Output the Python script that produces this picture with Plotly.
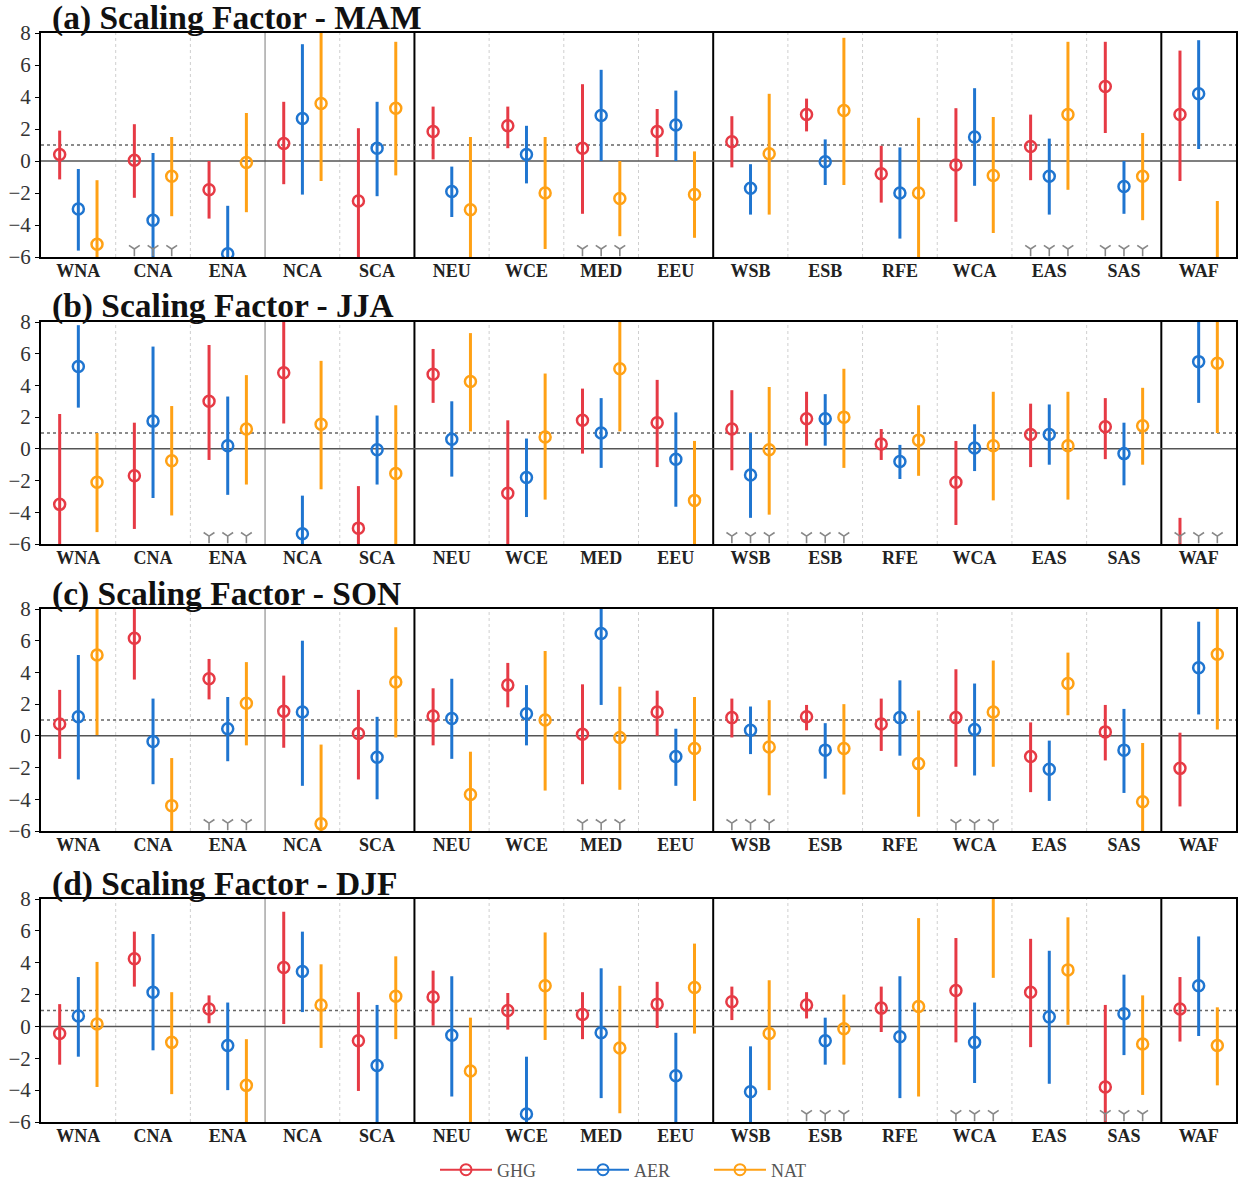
import plotly.graph_objects as go

REGIONS = ["WNA", "CNA", "ENA", "NCA", "SCA", "NEU", "WCE", "MED", "EEU",
           "WSB", "ESB", "RFE", "WCA", "EAS", "SAS", "WAF"]
SEASONS = ["MAM", "JJA", "SON", "DJF"]
PANEL_LETTERS = ["(a)", "(b)", "(c)", "(d)"]
SERIES = ["GHG", "AER", "NAT"]

# ---- (a) MAM ----
MAM_GHG    = [0.4, 0.05, -1.8, 1.1, -2.5, 1.85, 2.2, 0.8, 1.85, 1.2, 2.9, -0.8, -0.25, 0.9, 4.65, 2.9]
MAM_GHG_LO = [-1.15, -2.3, -3.6, -1.45, -8, 0.1, 0.8, -3.3, 0.25, -0.4, 1.85, -2.6, -3.8, -1.2, 1.75, -1.25]
MAM_GHG_HI = [1.9, 2.3, 0.0, 3.7, 2.05, 3.4, 3.4, 4.8, 3.25, 2.8, 3.9, 0.95, 3.3, 2.9, 7.45, 6.9]
MAM_AER    = [-3.0, -3.7, -5.8, 2.65, 0.8, -1.9, 0.4, 2.85, 2.25, -1.7, -0.05, -2.0, 1.5, -0.95, -1.6, 4.2]
MAM_AER_LO = [-5.6, -8, -9, -2.1, -2.2, -3.5, -1.4, 0.0, 0.0, -3.35, -1.5, -4.85, -1.55, -3.35, -3.3, 0.75]
MAM_AER_HI = [-0.5, 0.5, -2.8, 7.3, 3.7, -0.35, 2.2, 5.7, 4.4, -0.2, 1.35, 0.85, 4.55, 1.4, 0.0, 7.55]
MAM_NAT    = [-5.2, -0.95, -0.1, 3.6, 3.3, -3.05, -2.0, -2.35, -2.1, 0.45, 3.15, -2.0, -0.9, 2.9, -0.95, -8.5]
MAM_NAT_LO = [-8, -3.45, -3.2, -1.25, -0.9, -8, -5.5, -4.7, -4.8, -3.35, -1.5, -8, -4.5, -1.8, -3.7, -14]
MAM_NAT_HI = [-1.2, 1.5, 3.0, 8.5, 7.45, 1.5, 1.5, 0.0, 0.6, 4.2, 7.7, 2.7, 2.75, 7.45, 1.75, -2.5]

# ---- (b) JJA ----
JJA_GHG    = [-3.5, -1.7, 3.0, 4.8, -5.0, 4.7, -2.8, 1.8, 1.65, 1.25, 1.9, 0.3, -2.1, 0.9, 1.4, -7.5]
JJA_GHG_LO = [-9, -5.05, -0.7, 1.6, -8, 2.9, -8, -0.3, -1.15, -1.35, 0.2, -0.7, -4.8, -1.15, -0.65, -11]
JJA_GHG_HI = [2.2, 1.65, 6.55, 8.5, -2.35, 6.3, 1.8, 3.8, 4.35, 3.7, 3.6, 1.25, 0.5, 2.85, 3.2, -4.35]
JJA_AER    = [5.2, 1.75, 0.2, -5.35, -0.05, 0.6, -1.8, 1.0, -0.65, -1.65, 1.9, -0.8, 0.05, 0.9, -0.3, 5.5]
JJA_AER_LO = [2.6, -3.1, -2.9, -8, -2.25, -1.75, -4.3, -1.2, -3.65, -4.35, 0.2, -1.9, -1.4, -1.0, -2.3, 2.9]
JJA_AER_HI = [7.8, 6.45, 3.3, -2.95, 2.1, 3.0, 0.65, 3.2, 2.3, 1.0, 3.45, 0.25, 1.55, 2.8, 1.65, 8.5]
JJA_NAT    = [-2.1, -0.75, 1.25, 1.55, -1.55, 4.25, 0.75, 5.05, -3.25, -0.05, 2.0, 0.55, 0.2, 0.2, 1.45, 5.4]
JJA_NAT_LO = [-5.25, -4.2, -2.25, -2.55, -8, 1.1, -3.2, 1.1, -8, -4.15, -1.2, -1.7, -3.25, -3.2, -1.0, 1.0]
JJA_NAT_HI = [1.0, 2.7, 4.65, 5.55, 2.75, 7.3, 4.75, 8.5, 0.5, 3.9, 5.05, 2.75, 3.6, 3.6, 3.85, 8.5]

# ---- (c) SON ----
SON_GHG    = [0.75, 6.15, 3.6, 1.55, 0.15, 1.25, 3.2, 0.1, 1.5, 1.15, 1.2, 0.75, 1.15, -1.3, 0.25, -2.05]
SON_GHG_LO = [-1.45, 3.55, 2.3, -0.75, -2.75, -0.6, 1.8, -3.05, 0.0, -0.1, 0.35, -0.95, -1.95, -3.55, -1.55, -4.45]
SON_GHG_HI = [2.9, 8.5, 4.85, 3.8, 2.9, 3.0, 4.6, 3.25, 2.85, 2.35, 1.95, 2.35, 4.2, 0.85, 1.95, 0.2]
SON_AER    = [1.2, -0.35, 0.45, 1.5, -1.35, 1.1, 1.4, 6.45, -1.3, 0.35, -0.9, 1.15, 0.4, -2.1, -0.9, 4.3]
SON_AER_LO = [-2.75, -3.05, -1.6, -3.15, -4.0, -1.45, -0.6, 1.95, -3.15, -1.15, -2.7, -1.25, -2.5, -4.1, -3.6, 1.35]
SON_AER_HI = [5.1, 2.35, 2.45, 6.0, 1.2, 3.6, 3.2, 8.5, 0.45, 1.85, 0.8, 3.5, 3.3, -0.3, 1.7, 7.2]
SON_NAT    = [5.1, -4.4, 2.05, -5.55, 3.4, -3.7, 1.0, -0.1, -0.8, -0.7, -0.8, -1.75, 1.5, 3.3, -4.15, 5.15]
SON_NAT_LO = [0.05, -8, -0.6, -8, -0.1, -8, -3.45, -3.4, -4.1, -3.75, -3.7, -5.1, -1.95, 1.3, -8, 0.4]
SON_NAT_HI = [8.5, -1.4, 4.65, -0.55, 6.85, -1.0, 5.35, 3.1, 2.45, 2.25, 2.0, 1.6, 4.75, 5.25, -0.45, 8.5]

# ---- (d) DJF ----
DJF_GHG    = [-0.45, 4.25, 1.1, 3.7, -0.9, 1.85, 1.0, 0.75, 1.4, 1.55, 1.35, 1.15, 2.25, 2.15, -3.8, 1.1]
DJF_GHG_LO = [-2.4, 2.5, 0.2, 0.15, -4.05, 0.05, -0.2, -0.8, -0.1, 0.4, 0.5, -0.35, -1.0, -1.3, -8, -0.95]
DJF_GHG_HI = [1.4, 5.95, 1.95, 7.2, 2.15, 3.5, 2.1, 2.15, 2.8, 2.5, 2.15, 2.5, 5.55, 5.5, 1.35, 3.1]
DJF_AER    = [0.65, 2.15, -1.2, 3.45, -2.45, -0.55, -5.5, -0.4, -3.1, -4.1, -0.9, -0.65, -1.0, 0.6, 0.8, 2.55]
DJF_AER_LO = [-1.9, -1.5, -4.0, 0.9, -8, -4.4, -8, -4.5, -8, -8, -2.4, -4.5, -3.55, -3.6, -1.8, -0.6]
DJF_AER_HI = [3.1, 5.8, 1.5, 5.95, 1.35, 3.15, -1.9, 3.65, -0.4, -1.25, 0.55, 3.15, 1.5, 4.75, 3.25, 5.65]
DJF_NAT    = [0.15, -1.0, -3.7, 1.35, 1.9, -2.8, 2.55, -1.35, 2.45, -0.45, -0.15, 1.25, 9.5, 3.55, -1.1, -1.2]
DJF_NAT_LO = [-3.8, -4.25, -8, -1.35, -0.8, -8, -0.85, -5.45, -0.45, -4.0, -2.4, -4.4, 3.05, 0.1, -4.3, -3.7]
DJF_NAT_HI = [4.05, 2.15, -0.8, 3.9, 4.4, 0.55, 5.9, 2.55, 5.2, 2.9, 2.0, 6.8, 14, 6.85, 1.95, 1.2]

# regions flagged with the gray "Y" symbols near the bottom of each panel
MAM_FLAG = ["CNA", "MED", "EAS", "SAS"]
JJA_FLAG = ["ENA", "WSB", "ESB", "WAF"]
SON_FLAG = ["ENA", "MED", "WSB", "WCA"]
DJF_FLAG = ["ESB", "WCA", "SAS"]
FLAG_LEVEL = -5.5

Y_TICKS = [-6, -4, -2, 0, 2, 4, 6, 8]

DATA = {
    "MAM": {"GHG": (MAM_GHG, MAM_GHG_LO, MAM_GHG_HI), "AER": (MAM_AER, MAM_AER_LO, MAM_AER_HI),
            "NAT": (MAM_NAT, MAM_NAT_LO, MAM_NAT_HI), "flag": MAM_FLAG},
    "JJA": {"GHG": (JJA_GHG, JJA_GHG_LO, JJA_GHG_HI), "AER": (JJA_AER, JJA_AER_LO, JJA_AER_HI),
            "NAT": (JJA_NAT, JJA_NAT_LO, JJA_NAT_HI), "flag": JJA_FLAG},
    "SON": {"GHG": (SON_GHG, SON_GHG_LO, SON_GHG_HI), "AER": (SON_AER, SON_AER_LO, SON_AER_HI),
            "NAT": (SON_NAT, SON_NAT_LO, SON_NAT_HI), "flag": SON_FLAG},
    "DJF": {"GHG": (DJF_GHG, DJF_GHG_LO, DJF_GHG_HI), "AER": (DJF_AER, DJF_AER_LO, DJF_AER_HI),
            "NAT": (DJF_NAT, DJF_NAT_LO, DJF_NAT_HI), "flag": DJF_FLAG},
}

COLORS = {"GHG": "#e63a45", "AER": "#1f75d0", "NAT": "#ffa115"}
OFFSETS = {"GHG": -0.25, "AER": 0.0, "NAT": 0.25}

# page body margin is removed (see post_script), so the figure fills the window
W, H = 1238, 1183
FONT = "Liberation Serif, Times New Roman, serif"
X0, X1 = 41, 1236
PANEL_PX = [(33, 257), (322, 544), (609, 831), (899, 1122)]
TITLE_PX = [18.5, 306, 594, 884]
TITLE_X = 50
LEGEND_X, LEGEND_Y = 435, 1170

fig = go.Figure()
layout = dict(
    width=W, height=H, margin=dict(l=0, r=0, t=0, b=0, autoexpand=False),
    paper_bgcolor="white", plot_bgcolor="white",
    font=dict(family=FONT, color="#333"),
    showlegend=True,
    legend=dict(orientation="h", x=LEGEND_X / W, xanchor="left", y=1 - LEGEND_Y / H, yanchor="middle",
                font=dict(family=FONT, size=18, color="#555"), itemwidth=52,
                entrywidth=70, entrywidthmode="pixels",
                bgcolor="rgba(0,0,0,0)"),
)
shapes = []
annotations = []

for k, season in enumerate(SEASONS):
    ax = "" if k == 0 else str(k + 1)
    xref, yref = "x" + ax, "y" + ax
    top, bot = PANEL_PX[k]
    layout["xaxis" + ax] = dict(
        domain=[X0 / W, X1 / W], anchor=yref, range=[-0.5, len(REGIONS) - 0.5],
        tickvals=list(range(len(REGIONS))), ticktext=["<b>" + r + "</b>" for r in REGIONS],
        tickfont=dict(family=FONT, size=18, color="#222"), ticks="", showgrid=False,
        zeroline=False, showline=True, mirror=True, linecolor="black", linewidth=2,
        automargin=False, ticklabelstandoff=-4,
    )
    layout["yaxis" + ax] = dict(
        domain=[1 - bot / H, 1 - top / H], anchor=xref, range=[-6, 8],
        tickvals=Y_TICKS, tickfont=dict(family=FONT, size=21, color="#333"),
        ticks="outside", ticklen=4, tickcolor="black", showgrid=False, zeroline=False,
        showline=True, mirror=True, linecolor="black", linewidth=2, automargin=False,
    )
    # region separators
    for i in range(len(REGIONS) - 1):
        xv = i + 0.5
        if REGIONS[i] in ("SCA", "EEU", "SAS"):
            line = dict(color="black", width=2)
        elif REGIONS[i] == "ENA":
            line = dict(color="#999", width=1.3)
        else:
            line = dict(color="#cfcfcf", width=1, dash="dot")
        shapes.append(dict(type="line", xref=xref, yref=yref + " domain", x0=xv, x1=xv,
                           y0=0, y1=1, line=line, layer="below"))
    shapes.append(dict(type="line", xref=xref + " domain", yref=yref, x0=0, x1=1, y0=0, y1=0,
                       line=dict(color="#555", width=1.5), layer="below"))
    shapes.append(dict(type="line", xref=xref + " domain", yref=yref, x0=0, x1=1, y0=1, y1=1,
                       line=dict(color="#666", width=1.6, dash="dot"), layer="below"))

    annotations.append(dict(text="<b>%s Scaling Factor - %s</b>" % (PANEL_LETTERS[k], season),
                            xref="paper", yref="paper", x=TITLE_X / W, y=1 - TITLE_PX[k] / H,
                            xanchor="left", yanchor="middle", showarrow=False, height=36,
                            valign="middle",
                            font=dict(family=FONT, size=33.5, color="#111")))

    d = DATA[season]
    for s in SERIES:
        mid, lo, hi = d[s]
        xs = [i + OFFSETS[s] for i in range(len(REGIONS))]
        fig.add_trace(go.Scatter(
            x=xs, y=mid, mode="markers", xaxis=xref, yaxis=yref, showlegend=False,
            marker=dict(symbol="circle-open", size=11, color=COLORS[s], line=dict(width=2.5, color=COLORS[s])),
            error_y=dict(type="data", symmetric=False,
                         array=[h - m for h, m in zip(hi, mid)],
                         arrayminus=[m - l for m, l in zip(mid, lo)],
                         width=0, thickness=3, color=COLORS[s]),
            cliponaxis=True, name=s,
        ))
    fx, fy = [], []
    for r in d["flag"]:
        i = REGIONS.index(r)
        for s in SERIES:
            fx.append(i + OFFSETS[s])
            fy.append(FLAG_LEVEL)
    fig.add_trace(go.Scatter(
        x=fx, y=fy, mode="markers", xaxis=xref, yaxis=yref, showlegend=False,
        marker=dict(symbol="y-down", size=9, color="#888", line=dict(width=1.6, color="#888")),
        hoverinfo="skip",
    ))

for s in SERIES:
    fig.add_trace(go.Scatter(
        x=[None], y=[None], mode="lines+markers", name=s, xaxis="x4", yaxis="y4",
        line=dict(color=COLORS[s], width=2),
        marker=dict(symbol="circle-open", size=11, color=COLORS[s], line=dict(width=2, color=COLORS[s])),
    ))

layout["shapes"] = shapes
layout["annotations"] = annotations
fig.update_layout(**layout)
fig.write_html("out.html", config={"displayModeBar": False},
               post_script="document.body.style.margin='0px';document.body.style.overflow='hidden';")
